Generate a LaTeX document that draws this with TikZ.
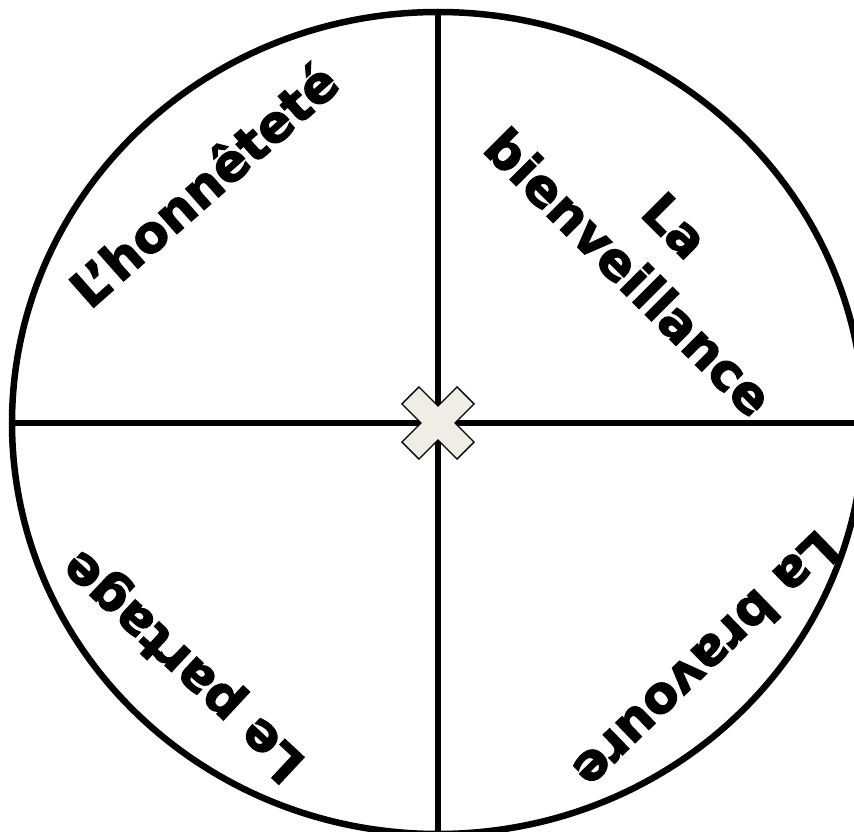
\documentclass[tikz,border=0pt]{standalone}
\usepackage{fontspec}
\newfontfamily\wheelfont[BoldFeatures={FakeBold=2.4}]{DejaVu Sans}
\definecolor{xfill}{HTML}{EFEDE6}
\tikzset{
  rim/.style={line width=6.5pt},
  divider/.style={line width=5.5pt},
  label/.style={font=\wheelfont\bfseries\fontsize{51}{66}\selectfont, align=center, inner sep=0pt},
  marker/.style={fill=xfill, draw=black, line width=1.3pt, line join=miter}
}
\begin{document}
\begin{tikzpicture}[x=1pt,y=-1pt]
\useasboundingbox (0,0) rectangle (854,832);
\clip (0,0) rectangle (854,832);
\coordinate (c) at (438,423);
\coordinate (top) at (438,12);
\coordinate (bot) at (438,840);
\coordinate (left) at (12,423);
\coordinate (right) at (870,423);
\draw[divider] (top) -- (bot);
\draw[divider] (left) -- (right);
\draw[rim] (c) ellipse [x radius=426, y radius=411];
\begin{scope}[shift={(c)}, rotate=45]
  \draw[marker] (12,12) -- (12,39) -- (-12,39) -- (-12,12) -- (-39,12) -- (-39,-12)
    -- (-12,-12) -- (-12,-39) -- (12,-39) -- (12,-12) -- (39,-12) -- (39,12) -- cycle;
\end{scope}
\node[label, rotate=41.5] (honn) at (203,184) {L’honnêteté};
\node[label, rotate=-45] (bien) at (652,249) {La\\bienveillance};
\node[label, rotate=224] (brav) at (707,661) {La bravoure};
\node[label, rotate=137] (part) at (185,664) {Le partage};
\end{tikzpicture}
\end{document}
